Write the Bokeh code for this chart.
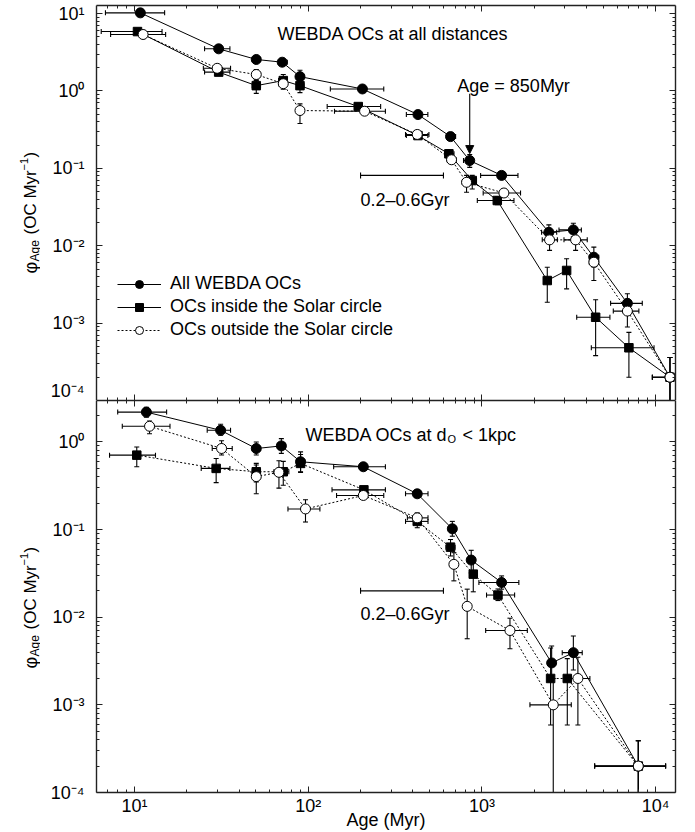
import math
from bokeh.plotting import figure
from bokeh.models import (ColumnDataSource, LogAxis, FixedTicker, CustomJSTickFormatter,
                          Range1d, Label, Arrow, NormalHead, Legend, LegendItem)
from bokeh.layouts import column, row
from bokeh.embed import file_html
from bokeh.resources import INLINE

FONT = "Liberation Sans"

# ---------------- axis ranges / ticks ----------------
X_RANGE = (6.04, 13000.0)
TOP_Y_RANGE = (1e-4, 12.7)
BOT_Y_RANGE = (1e-4, 2.97)
X_MAJOR = [1e1, 1e2, 1e3, 1e4]
Y_MAJOR = [1e-4, 1e-3, 1e-2, 1e-1, 1e0, 1e1]
MINOR_MANTISSAS = [2, 3, 4, 5, 6, 7, 8, 9]

# ---------------- top panel: WEBDA OCs at all distances ----------------
top_all_x = [10.8, 30.5, 50.2, 70.8, 89.6, 205, 428, 659, 850, 1297, 2427, 3357, 4405, 6870, 12080]
top_all_y = [10.2, 3.5, 2.55, 2.35, 1.53, 1.06, 0.495, 0.257, 0.126, 0.081, 0.0149, 0.016, 0.0071, 0.0018, 2.0e-4]
top_all_xlo = [6.8, 25.3, 47.6, 67.5, 85.7, 134, 367, 631, 783, 982, 2203, 2775, 4150, 5500, 9570]
top_all_xhi = [14.9, 35.4, 53.1, 75.7, 94.4, 272, 488, 705, 883, 1611, 2692, 3733, 4700, 8370, 16000]
top_all_ylo = [9.6, 3.3, 2.35, 2.15, 1.3, 1.0, 0.465, 0.235, 0.103, 0.075, 0.0123, 0.0131, 0.0053, 0.0014, 5e-5]
top_all_yhi = [10.9, 3.75, 2.8, 2.6, 1.85, 1.13, 0.53, 0.28, 0.151, 0.088, 0.0186, 0.0195, 0.0096, 0.0024, 3.6e-4]

top_in_x = [10.4, 30.5, 50.2, 71.8, 89.6, 194, 428, 645, 879, 1225, 2376, 3070, 4510, 7010, 12080]
top_in_y = [5.85, 1.75, 1.17, 1.36, 1.17, 0.628, 0.265, 0.154, 0.0695, 0.0384, 0.00355, 0.00479, 0.00119, 4.8e-4, 2.0e-4]
top_in_xlo = [6.43, 25.3, 47.6, 67.5, 85.7, 128.5, 367, 610, 830, 940, 2376, 3070, 3510, 4260, 9570]
top_in_xhi = [14.4, 35.4, 53.1, 75.7, 94.4, 261, 488, 690, 930, 1528, 2376, 3070, 5450, 9780, 16000]
top_in_ylo = [5.5, 1.58, 0.93, 1.14, 0.95, 0.59, 0.245, 0.135, 0.054, 0.034, 0.00186, 0.00277, 3.8e-4, 2.0e-4, 5e-5]
top_in_yhi = [6.2, 1.95, 1.36, 1.63, 1.36, 0.67, 0.29, 0.175, 0.081, 0.043, 0.00527, 0.00678, 0.002, 7.6e-4, 3.6e-4]

top_out_x = [11.2, 29.9, 50.2, 71.8, 89.6, 211, 424, 668, 815, 1337, 2449, 3459, 4405, 6870, 12080]
top_out_y = [5.36, 1.96, 1.63, 1.24, 0.558, 0.547, 0.274, 0.129, 0.066, 0.048, 0.0119, 0.0119, 0.00612, 0.00143, 2.0e-4]
top_out_xlo = [7.28, 24.9, 47.6, 67.5, 85.7, 141.6, 363, 630, 770, 1016, 2223, 2965, 4150, 5700, 9570]
top_out_xhi = [15.1, 35.7, 53.1, 75.7, 94.4, 278, 495, 710, 860, 1667, 2717, 4036, 4700, 8000, 16000]
top_out_ylo = [5.0, 1.78, 1.39, 1.05, 0.38, 0.51, 0.255, 0.115, 0.049, 0.043, 0.0087, 0.0087, 0.00355, 8.9e-4, 5e-5]
top_out_yhi = [5.7, 2.15, 1.89, 1.45, 0.68, 0.59, 0.295, 0.145, 0.081, 0.054, 0.0143, 0.0152, 0.00785, 0.0018, 3.6e-4]

# ---------------- bottom panel: WEBDA OCs at d_O < 1kpc ----------------
bot_all_x = [11.7, 31.3, 50.2, 70.0, 90.3, 207.5, 424, 675, 867, 1297, 2518, 3357, 7940]
bot_all_y = [2.19, 1.357, 0.841, 0.901, 0.594, 0.521, 0.256, 0.102, 0.0449, 0.0249, 0.00301, 0.00394, 2.0e-4]
bot_all_xlo = [8.0, 26.2, 47.6, 66.5, 86, 140, 363, 640, 830, 960, 2518, 2897, 4450]
bot_all_xhi = [15.3, 35.7, 53.1, 74, 95, 278, 489, 710, 905, 1630, 2518, 3776, 11400]
bot_all_ylo = [1.92, 1.19, 0.71, 0.74, 0.457, 0.49, 0.24, 0.084, 0.032, 0.0209, 0.002, 0.0025, 5e-5]
bot_all_yhi = [2.49, 1.59, 1.0, 1.09, 0.77, 0.555, 0.28, 0.124, 0.058, 0.0296, 0.0047, 0.0061, 3.9e-4]

bot_in_x = [10.3, 29.5, 50.2, 71.8, 90.3, 209, 424, 659, 891, 1236, 2483, 3098, 7940]
bot_in_y = [0.707, 0.499, 0.457, 0.457, 0.569, 0.284, 0.124, 0.063, 0.031, 0.0179, 0.002, 0.002, 2.0e-4]
bot_in_xlo = [7.18, 24.2, 47.6, 63.4, 86, 137, 363, 620, 850, 1062, 2483, 3098, 4450]
bot_in_xhi = [13.2, 35.4, 53.1, 77.3, 95, 278, 489, 700, 935, 1541, 2483, 3098, 11400]
bot_in_ylo = [0.521, 0.343, 0.35, 0.32, 0.45, 0.265, 0.105, 0.05, 0.0195, 0.0155, 5.9e-4, 5.9e-4, 5e-5]
bot_in_yhi = [0.877, 0.648, 0.57, 0.6, 0.72, 0.30, 0.145, 0.077, 0.0457, 0.021, 0.00446, 0.00337, 3.9e-4]

bot_out_x = [12.2, 31.7, 50.2, 67.8, 96.4, 207.5, 424, 689, 822, 1449, 2572, 3565, 7940]
bot_out_y = [1.51, 0.842, 0.402, 0.45, 0.172, 0.245, 0.136, 0.0401, 0.0133, 0.00705, 0.001, 0.002, 2.0e-4]
bot_out_xlo = [8.5, 28.0, 47.6, 64, 76.4, 145.5, 372, 655, 790, 1050, 1888, 3236, 4450]
bot_out_xhi = [16.0, 36.5, 53.1, 72, 116.7, 272, 489, 725, 855, 1824, 3266, 4180, 11400]
bot_out_ylo = [1.24, 0.71, 0.256, 0.297, 0.122, 0.23, 0.115, 0.026, 0.00568, 0.00437, 1e-5, 5.9e-4, 5e-5]
bot_out_yhi = [1.73, 1.03, 0.545, 0.61, 0.219, 0.26, 0.155, 0.0545, 0.0209, 0.00975, 0.002, 0.0035, 3.9e-4]

# 0.2-0.6 Gyr scale bars
bar_x = [200, 600]
top_bar_y = 0.081
bot_bar_y = 0.02

SUP_JS = """
const m = {"-":"\\u207b","0":"\\u2070","1":"\\u00b9","2":"\\u00b2","3":"\\u00b3",
           "4":"\\u2074","5":"\\u2075","6":"\\u2076","7":"\\u2077","8":"\\u2078","9":"\\u2079"};
const e = Math.round(Math.log10(tick));
let s = "";
for (const c of String(e)) s += m[c];
return "10" + s;
"""


def minor_list(lo_exp, hi_exp):
    return [m * 10.0 ** e for e in range(lo_exp, hi_exp + 1) for m in MINOR_MANTISSAS]


def style_axis(ax, ticks, minors, labels):
    ax.ticker = FixedTicker(ticks=ticks, minor_ticks=minors)
    ax.major_tick_in = 6
    ax.major_tick_out = 0
    ax.minor_tick_in = 3
    ax.minor_tick_out = 0
    ax.axis_line_width = 1.4
    ax.axis_line_color = "#222222"
    ax.major_tick_line_color = "#222222"
    ax.minor_tick_line_color = "#222222"
    ax.major_tick_line_width = 1
    ax.minor_tick_line_width = 1
    if labels:
        ax.formatter = CustomJSTickFormatter(code=SUP_JS)
        ax.major_label_text_font = FONT
        ax.major_label_text_font_size = "18px"
        ax.major_label_text_color = "black"
    else:
        ax.formatter = CustomJSTickFormatter(code="return '';")
        ax.major_label_text_font_size = "0px"
        ax.major_label_standoff = 0


def make_panel(y_range, xlabels, height, border_top, border_bottom, series,
               title_parts, title_xy, bar_y, bar_text_y):
    p = figure(x_axis_type="log", y_axis_type="log",
               x_range=Range1d(*X_RANGE), y_range=Range1d(*y_range),
               width=655, height=height,
               min_border_left=56, min_border_right=20,
               min_border_top=border_top, min_border_bottom=border_bottom,
               output_backend="svg", toolbar_location=None)
    p.grid.visible = False
    p.outline_line_color = None
    p.background_fill_color = "white"
    p.border_fill_color = "white"

    xminor = minor_list(0, 4)
    yminor = minor_list(-4, 1)
    style_axis(p.xaxis[0], X_MAJOR, xminor, xlabels)
    style_axis(p.yaxis[0], Y_MAJOR, yminor, True)
    p.yaxis[0].major_label_standoff = 12
    if xlabels:
        p.xaxis[0].major_label_standoff = 3
        p.xaxis[0].axis_label = "Age (Myr)"
        p.xaxis[0].axis_label_text_font = FONT
        p.xaxis[0].axis_label_text_font_size = "18px"
        p.xaxis[0].axis_label_text_font_style = "normal"
        p.xaxis[0].axis_label_text_color = "black"
        p.xaxis[0].axis_label_standoff = -9
    top_ax = LogAxis()
    right_ax = LogAxis()
    style_axis(top_ax, X_MAJOR, xminor, False)
    style_axis(right_ax, Y_MAJOR, yminor, False)
    p.add_layout(top_ax, "above")
    p.add_layout(right_ax, "right")

    renderers = []
    for (xs, ys, xlo, xhi, ylo, yhi, marker, fill, dash) in series:
        src = ColumnDataSource(dict(x=xs, y=ys, xlo=xlo, xhi=xhi, ylo=ylo, yhi=yhi))
        ln = p.line("x", "y", source=src, line_color="black", line_width=1, line_dash=dash)
        p.segment(x0="x", y0="ylo", x1="x", y1="yhi", source=src, line_color="black", line_width=1.1)
        p.segment(x0="xlo", y0="y", x1="xhi", y1="y", source=src, line_color="black", line_width=1.1)
        p.scatter("x", "ylo", source=src, marker="dash", size=5, line_color="black", line_width=1.1)
        p.scatter("x", "yhi", source=src, marker="dash", size=5, line_color="black", line_width=1.1)
        p.scatter("xlo", "y", source=src, marker="dash", angle=math.pi / 2, size=5, line_color="black", line_width=1.1)
        p.scatter("xhi", "y", source=src, marker="dash", angle=math.pi / 2, size=5, line_color="black", line_width=1.1)
        sz = 10 if marker == "circle" else 8.5
        sc = p.scatter("x", "y", source=src, marker=marker, size=sz,
                       fill_color=fill, line_color="black", line_width=1)
        renderers.append((ln, sc))

    tx, ty = title_xy
    for text, dx, dy, size in title_parts:
        p.add_layout(Label(x=tx, y=ty, x_offset=dx, y_offset=dy, text=text,
                           text_font=FONT, text_font_size=size, text_color="black",
                           text_baseline="alphabetic"))

    bsrc = ColumnDataSource(dict(x0=[bar_x[0]], x1=[bar_x[1]], y=[bar_y]))
    p.segment(x0="x0", y0="y", x1="x1", y1="y", source=bsrc, line_color="black", line_width=1.1)
    p.scatter("x0", "y", source=bsrc, marker="dash", angle=math.pi / 2, size=6, line_color="black", line_width=1.1)
    p.scatter("x1", "y", source=bsrc, marker="dash", angle=math.pi / 2, size=6, line_color="black", line_width=1.1)
    p.add_layout(Label(x=bar_x[0], y=bar_text_y, text="0.2\u20130.6Gyr", text_font=FONT,
                       text_font_size="18px", text_color="black", text_baseline="alphabetic"))
    return p, renderers


top, top_r = make_panel(
    TOP_Y_RANGE, False, 400, 5, 0,
    [(top_all_x, top_all_y, top_all_xlo, top_all_xhi, top_all_ylo, top_all_yhi, "circle", "black", "solid"),
     (top_in_x, top_in_y, top_in_xlo, top_in_xhi, top_in_ylo, top_in_yhi, "square", "black", "solid"),
     (top_out_x, top_out_y, top_out_xlo, top_out_xhi, top_out_ylo, top_out_yhi, "circle", "white", "2 2")],
    [("WEBDA OCs at all distances", 0, 0, "18px")], (66.5, 5.5), top_bar_y, 0.0384)

top.add_layout(Arrow(end=NormalHead(size=8, fill_color="black", line_color="black"),
                     x_start=850, y_start=0.92, x_end=850, y_end=0.155,
                     line_color="black", line_width=1.1))
top.add_layout(Label(x=721, y=1.17, text="Age = 850Myr", text_font=FONT, text_font_size="18px",
                     text_color="black", text_baseline="alphabetic"))

legend = Legend(items=[LegendItem(label="All WEBDA OCs", renderers=list(top_r[0])),
                       LegendItem(label="OCs inside the Solar circle", renderers=list(top_r[1])),
                       LegendItem(label="OCs outside the Solar circle", renderers=list(top_r[2]))],
                location=(21, 60), glyph_width=44, glyph_height=20, label_height=20,
                spacing=2, padding=0, margin=0, label_standoff=9,
                label_text_font=FONT, label_text_font_size="18px", label_text_color="black",
                border_line_alpha=0, background_fill_alpha=0)
top.add_layout(legend)

bottom, _ = make_panel(
    BOT_Y_RANGE, True, 432, 0, 37,
    [(bot_all_x, bot_all_y, bot_all_xlo, bot_all_xhi, bot_all_ylo, bot_all_yhi, "circle", "black", "solid"),
     (bot_in_x, bot_in_y, bot_in_xlo, bot_in_xhi, bot_in_ylo, bot_in_yhi, "square", "black", "2 2"),
     (bot_out_x, bot_out_y, bot_out_xlo, bot_out_xhi, bot_out_ylo, bot_out_yhi, "circle", "white", "2 2")],
    [("WEBDA OCs at d", 0, 0, "18px"), ("O", 142, -4, "11px"), ("< 1kpc", 157, 0, "18px")],
    (96.4, 1.19), bot_bar_y, 0.0109)

# ---------------- rotated y-axis titles in a narrow side strip ----------------
side = figure(width=40, height=832, x_range=Range1d(0, 40), y_range=Range1d(832, 0),
              min_border=0, min_border_left=0, min_border_right=0, min_border_top=0,
              min_border_bottom=0, output_backend="svg", toolbar_location=None)
side.axis.visible = False
side.grid.visible = False
side.outline_line_color = None
side.background_fill_color = "white"
side.border_fill_color = "white"
for frame_bottom in (400, 795):
    for text, bx, rel, size in [("\u03c6", 30, 127, "18px"), ("Age", 34, 139, "12px"),
                                ("(OC Myr", 30, 166, "17px"), ("\u22121", 23, 230, "11px"),
                                (")", 30, 243, "17px")]:
        side.add_layout(Label(x=bx, y=frame_bottom - rel, text=text, angle=math.pi / 2,
                              text_font=FONT, text_font_size=size, text_color="black",
                              text_baseline="alphabetic", text_align="left"))

layout = row(side, column(top, bottom, spacing=0), spacing=0)
open("out.html", "w").write(file_html(layout, INLINE))
